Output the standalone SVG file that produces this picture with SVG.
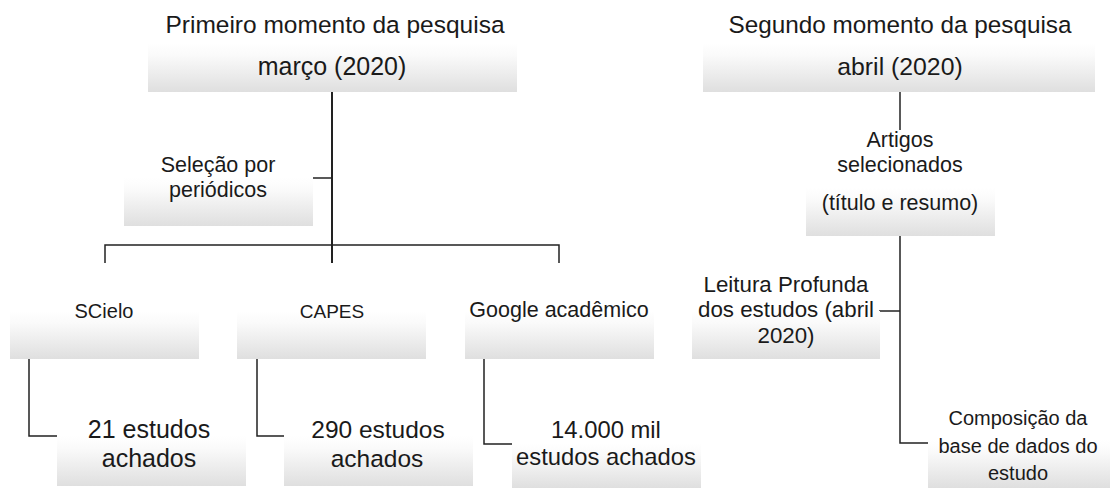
<svg xmlns="http://www.w3.org/2000/svg" width="1113" height="488" viewBox="0 0 1113 488">
  <defs>
    <linearGradient id="g" x1="0" y1="0" x2="0" y2="1">
      <stop offset="0" stop-color="#ffffff"/>
      <stop offset="0.25" stop-color="#fafafa"/>
      <stop offset="1" stop-color="#dfdfdf"/>
    </linearGradient>
  </defs>
  <style>
    .box { fill: url(#g); stroke: none; }
    text { font-family: "Liberation Sans", Arial, sans-serif; fill: #1a1a1a; text-anchor: middle; }
    .conn { stroke: #222; stroke-width: 1.5; fill: none; }
  </style>
  <rect width="1113" height="488" fill="#ffffff"/>

  <g id="connectors">
    <path class="conn" d="M332 92 V263" style="stroke-width:2"/>
    <path class="conn" d="M313 178 H332"/>
    <path class="conn" d="M105 263 V245 H559 V263"/>
    <path class="conn" d="M29 359 V436 H57"/>
    <path class="conn" d="M257 359 V436 H284"/>
    <path class="conn" d="M484 359 V444 H512"/>
    <path class="conn" d="M900 92 V130"/>
    <path class="conn" d="M900 236 V443 H928"/>
    <path class="conn" d="M879 311 H900"/>
  </g>

  <g id="n-marco">
    <rect class="box" x="148" y="43" width="369" height="49"/>
    <text x="335" y="33" font-size="24.5">Primeiro momento da pesquisa</text>
    <text x="332" y="75" font-size="25">março (2020)</text>
  </g>

  <g id="n-abril">
    <rect class="box" x="703" y="43" width="392" height="49"/>
    <text x="900" y="33" font-size="24.3">Segundo momento da pesquisa</text>
    <text x="900" y="75" font-size="24.8">abril (2020)</text>
  </g>

  <g id="n-selecao">
    <rect class="box" x="124" y="178" width="189" height="48"/>
    <text x="218" y="172" font-size="21.5">Seleção por</text>
    <text x="218" y="197" font-size="21.5">periódicos</text>
  </g>

  <g id="n-scielo">
    <rect class="box" x="10" y="311" width="189" height="48"/>
    <text x="104" y="318" font-size="20">SCielo</text>
  </g>

  <g id="n-capes">
    <rect class="box" x="237" y="311" width="189" height="48"/>
    <text x="332" y="318" font-size="19">CAPES</text>
  </g>

  <g id="n-google">
    <rect class="box" x="465" y="311" width="189" height="48"/>
    <text x="559" y="317" font-size="21.5">Google acadêmico</text>
  </g>

  <g id="n-21">
    <rect class="box" x="57" y="436" width="189" height="50"/>
    <text x="149" y="438" font-size="25">21 estudos</text>
    <text x="149" y="467" font-size="25">achados</text>
  </g>

  <g id="n-290">
    <rect class="box" x="284" y="436" width="189" height="50"/>
    <text x="378" y="438" font-size="24.5">290 estudos</text>
    <text x="377" y="467" font-size="24.5">achados</text>
  </g>

  <g id="n-14000">
    <rect class="box" x="512" y="444" width="189" height="44"/>
    <text x="606" y="438" font-size="23.8">14.000 mil</text>
    <text x="606" y="465" font-size="23.8">estudos achados</text>
  </g>

  <g id="n-artigos">
    <rect class="box" x="806" y="188" width="189" height="48"/>
    <text x="900" y="147" font-size="21.5">Artigos</text>
    <text x="900" y="172" font-size="21.5">selecionados</text>
    <text x="900" y="210" font-size="21.5">(título e resumo)</text>
  </g>

  <g id="n-leitura">
    <rect class="box" x="692" y="311" width="188" height="48"/>
    <text x="786" y="292" font-size="22.3">Leitura Profunda</text>
    <text x="786" y="317" font-size="22.3">dos estudos (abril</text>
    <text x="786" y="343" font-size="22.3">2020)</text>
  </g>

  <g id="n-composicao">
    <rect class="box" x="928" y="440" width="182" height="48"/>
    <text x="1018" y="425" font-size="20">Composição da</text>
    <text x="1018" y="453" font-size="20">base de dados do</text>
    <text x="1018" y="480" font-size="20">estudo</text>
  </g>
</svg>
